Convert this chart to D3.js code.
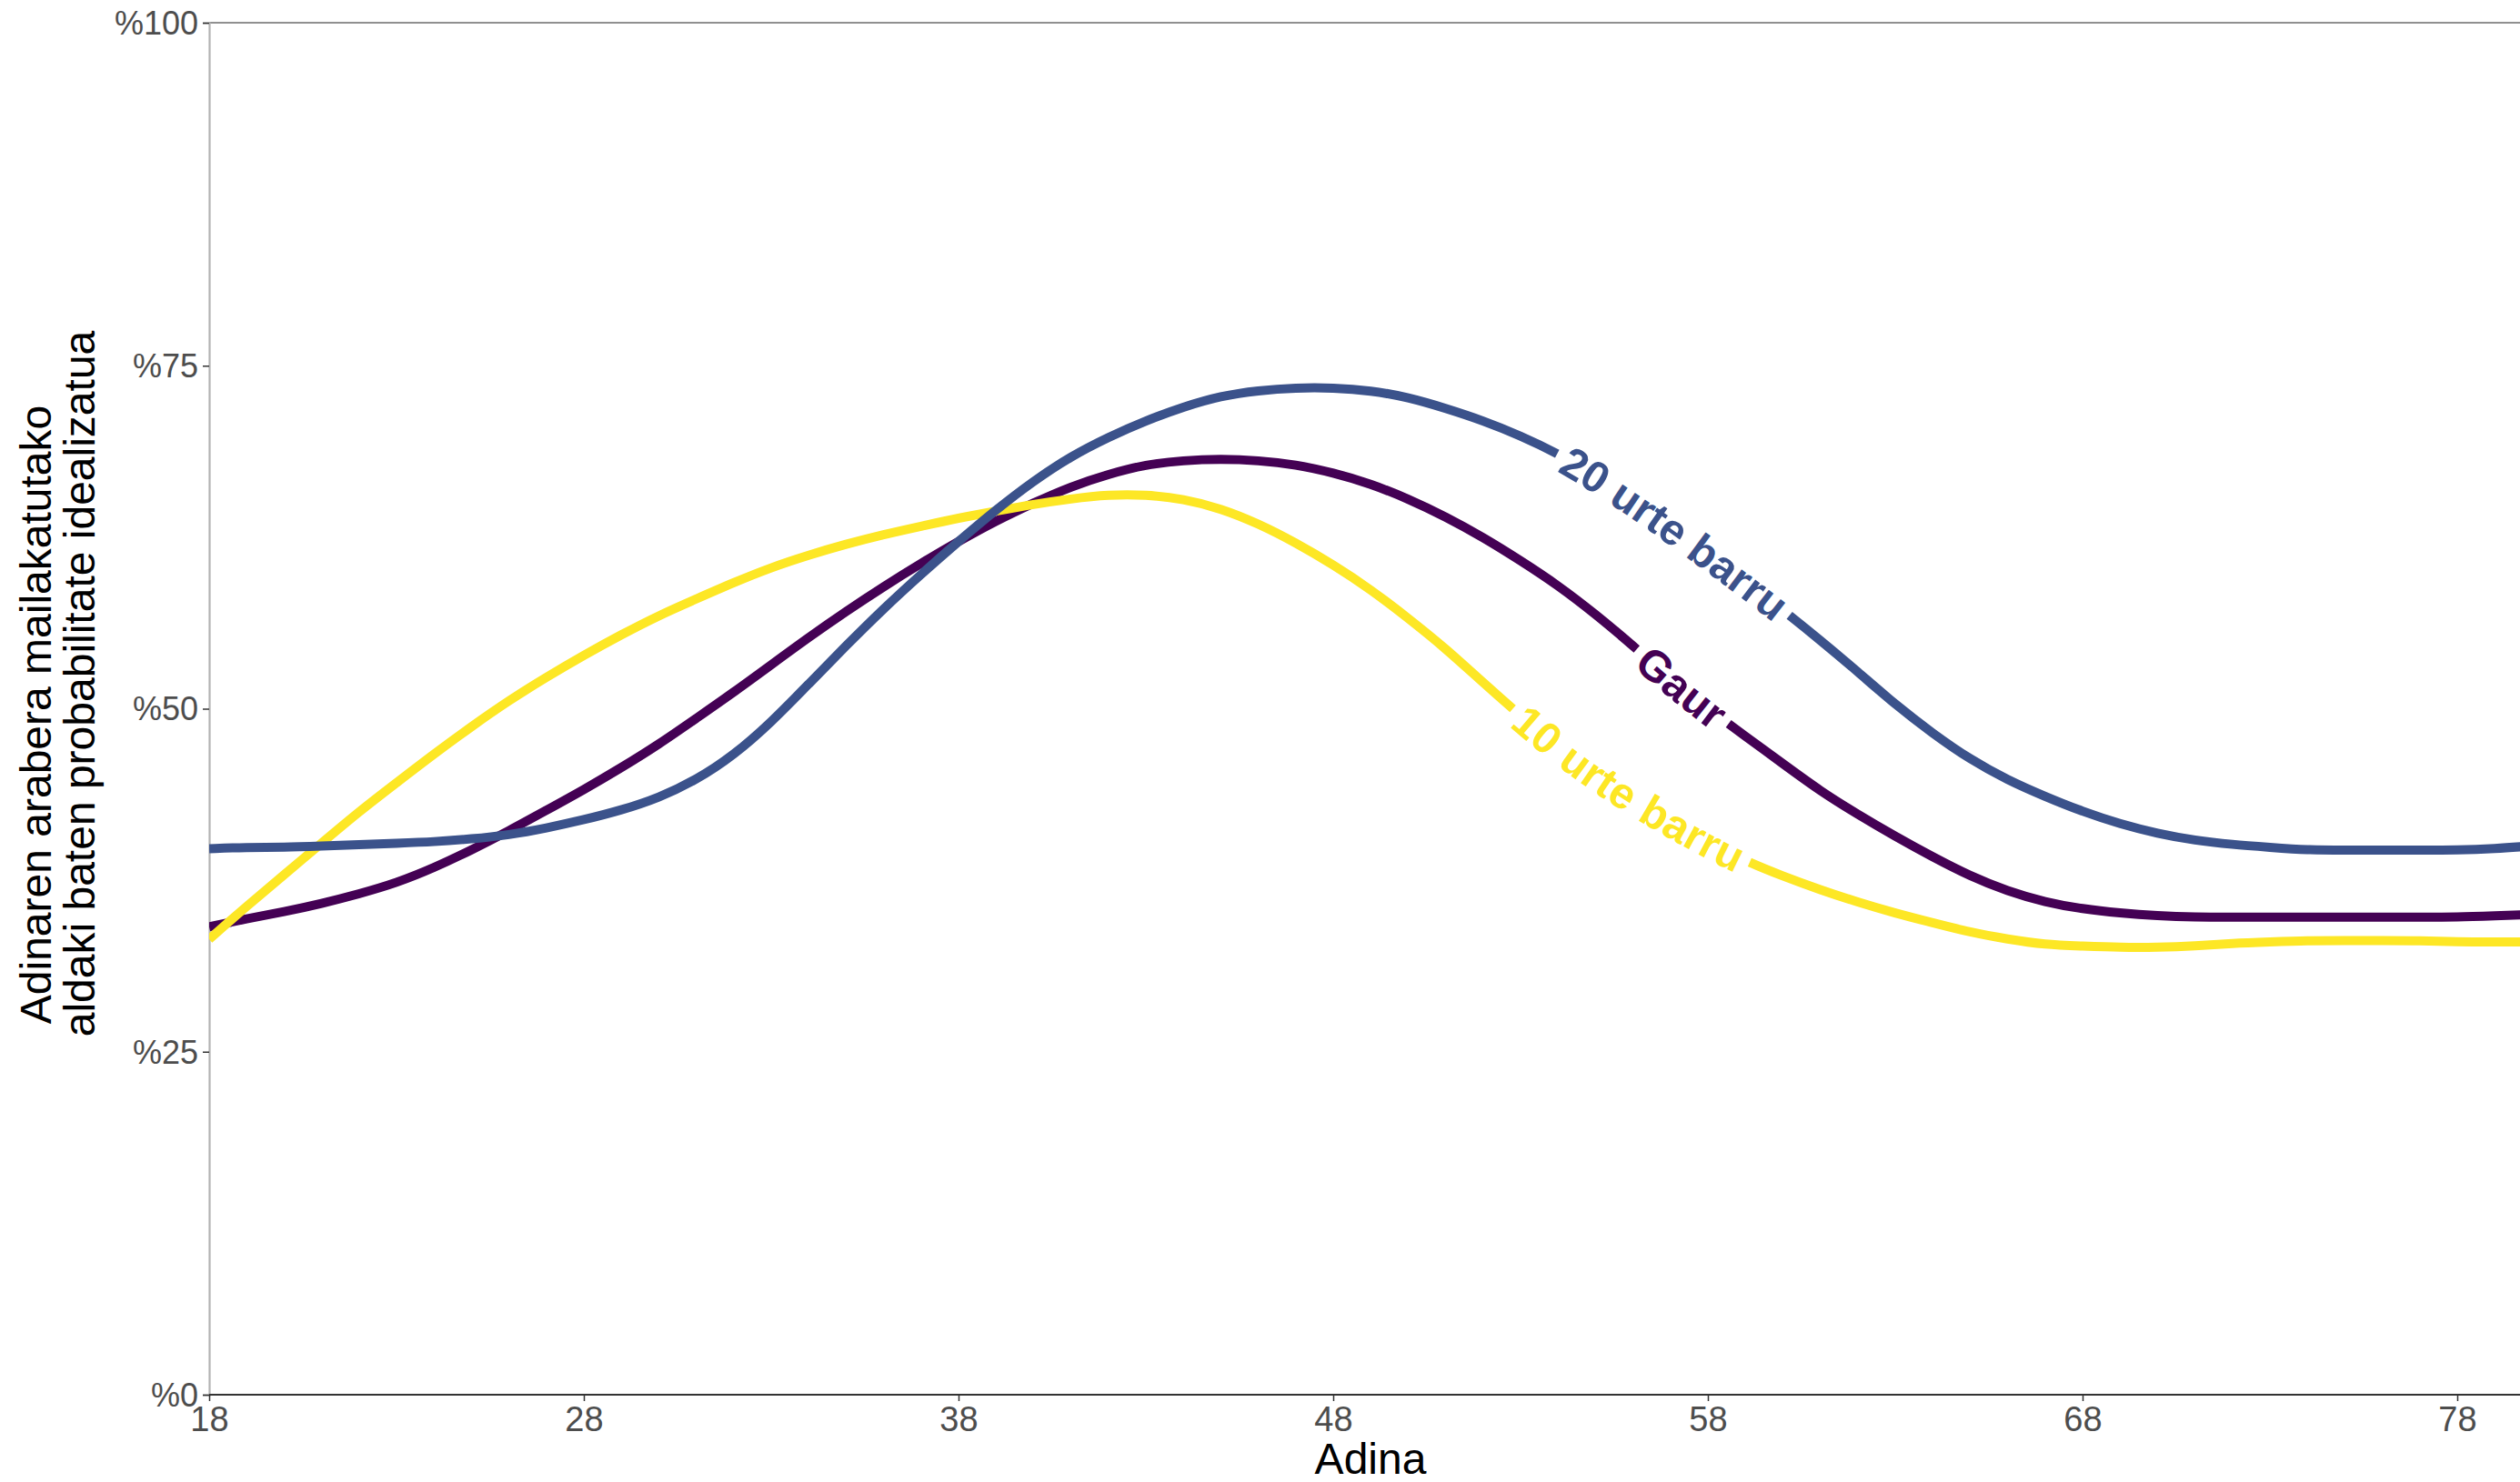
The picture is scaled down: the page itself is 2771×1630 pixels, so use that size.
<!DOCTYPE html>
<html>
<head>
<meta charset="utf-8">
<script src="https://cdn.jsdelivr.net/npm/d3@7"></script>
<style>
html, body { margin: 0; padding: 0; background: #fff; }
svg { display: block; }
</style>
</head>
<body>
<svg id="chart" width="2771" height="1630"></svg>
<script>
// ---- data ----
const ages = d3.range(18, 81);
const gaur = [34.1,34.7,35.2,35.8,36.5,37.3,38.4,39.7,41.1,42.6,44.1,45.7,47.4,49.3,51.2,53.2,55.2,57.1,58.9,60.6,62.2,63.7,65.0,66.2,67.1,67.8,68.1,68.2,68.1,67.8,67.2,66.4,65.3,64.0,62.5,60.8,59.0,56.9,54.6,52.2,50.0,48.0,46.0,44.0,42.3,40.7,39.2,37.8,36.7,35.9,35.4,35.1,34.9,34.8,34.8,34.8,34.8,34.8,34.8,34.8,34.8,34.9,35.0];
const urte10 = [33.2,35.6,37.9,40.2,42.5,44.6,46.7,48.7,50.6,52.3,53.9,55.4,56.8,58.0,59.2,60.3,61.2,62.0,62.7,63.3,63.9,64.4,64.9,65.3,65.6,65.6,65.3,64.6,63.5,62.1,60.5,58.7,56.6,54.4,51.9,49.5,47.2,45.2,43.4,41.8,40.3,38.9,37.8,36.8,35.9,35.1,34.4,33.7,33.2,32.8,32.7,32.6,32.6,32.7,32.9,33.0,33.1,33.1,33.1,33.1,33.0,33.0,33.0];
const urte20 = [39.8,39.9,39.9,40.0,40.1,40.2,40.3,40.5,40.8,41.3,41.9,42.6,43.5,44.8,46.6,49.0,51.8,54.6,57.3,59.8,62.2,64.5,66.6,68.4,69.8,71.0,72.0,72.8,73.2,73.4,73.4,73.2,72.7,71.9,71.0,69.9,68.6,67.0,65.2,63.3,61.3,59.3,57.2,55.0,52.7,50.3,48.2,46.3,44.8,43.6,42.5,41.6,40.9,40.4,40.1,39.9,39.7,39.7,39.7,39.7,39.7,39.8,40.0];
const seriesNames = ["Gaur", "10 urte barru", "20 urte barru"];
const seriesValues = [gaur, urte10, urte20];
const seriesColors = ["#440154", "#FDE725", "#3B528B"];
const labelAges = [57.3, 55.8, 57.15];
const xTicks = [18, 28, 38, 48, 58, 68, 78];
const yTicks = [0, 25, 50, 75, 100];
const xTitle = "Adina";
const yTitleLines = ["Adinaren arabera mailakatutako", "aldaki baten probabilitate idealizatua"];

// ---- layout ----
const svg = d3.select("#chart");
const L = 230, R = 2771, T = 25, B = 1534;
const x = d3.scaleLinear().domain([18, 80]).range([L, L + 62 * 41.2]);
const y = d3.scaleLinear().domain([0, 100]).range([B, T]);
const font = "'Liberation Sans', Arial, sans-serif";

svg.append("defs").append("clipPath").attr("id", "clip")
  .append("rect").attr("x", L).attr("y", 0).attr("width", R - L).attr("height", B + 5);

// top line (100%)
svg.append("line").attr("x1", L).attr("x2", R).attr("y1", y(100)).attr("y2", y(100))
  .attr("stroke", "#6b6b6b").attr("stroke-width", 1.5);

// left axis
const yAxis = d3.axisLeft(y).tickValues(yTicks).tickSize(7).tickPadding(5)
  .tickFormat(d => "%" + d);
const ya = svg.append("g").attr("transform", `translate(${L},0)`).call(yAxis);
ya.select(".domain").attr("stroke", "#b3b3b3").attr("stroke-width", 2.2);
ya.selectAll(".tick line").attr("stroke", "#333").attr("stroke-width", 1.5);
ya.selectAll(".tick text").attr("fill", "#4d4d4d").attr("font-family", font).attr("font-size", 36).attr("dy", "0.34em");

// bottom axis
const xAxis = d3.axisBottom(x).tickValues(xTicks).tickSize(7).tickPadding(6).tickSizeOuter(0);
const xa = svg.append("g").attr("transform", `translate(0,${B})`).call(xAxis);
xa.select(".domain").attr("stroke", "#333").attr("stroke-width", 1.8).attr("d", `M${L},0H${R}`);
xa.selectAll(".tick line").attr("stroke", "#333").attr("stroke-width", 1.5);
xa.selectAll(".tick text").attr("fill", "#4d4d4d").attr("font-family", font).attr("font-size", 38).attr("dy", "0.72em");

// titles
svg.append("text").attr("x", 1507).attr("y", 1621).attr("text-anchor", "middle")
  .attr("font-family", font).attr("font-size", 48).attr("fill", "#000").text(xTitle);
const yCenters = [786, 752];
const yBase = [56, 104];
yTitleLines.forEach((t, i) => {
  svg.append("text").attr("transform", `translate(${yBase[i]},${yCenters[i]}) rotate(-90)`)
    .attr("text-anchor", "middle").attr("font-family", font).attr("font-size", 48)
    .attr("fill", "#000").text(t);
});

// lines
const line = d3.line().x((d, i) => x(ages[i])).y(d => y(d)).curve(d3.curveBasis);
const g = svg.append("g").attr("clip-path", "url(#clip)");
const order = [0, 1, 2];
order.forEach(k => {
  const id = "path" + k;
  const p = g.append("path").attr("id", id).datum(seriesValues[k]).attr("d", line)
    .attr("fill", "none").attr("stroke", seriesColors[k]).attr("stroke-width", 10)
    .attr("stroke-linecap", "butt").attr("stroke-linejoin", "round");
  const node = p.node();
  const total = node.getTotalLength();
  const tx = x(labelAges[k]);
  let lo = 0, hi = total;
  for (let it = 0; it < 40; it++) {
    const mid = (lo + hi) / 2;
    if (node.getPointAtLength(mid).x < tx) lo = mid; else hi = mid;
  }
  const cl = (lo + hi) / 2;
  const t = svg.append("text").attr("font-family", font).attr("font-weight", "bold")
    .attr("font-size", 48).attr("fill", seriesColors[k]).attr("dy", "0.36em");
  t.append("textPath").attr("href", "#" + id).attr("startOffset", cl)
    .attr("text-anchor", "middle").text(seriesNames[k]);
  const tl = t.node().getComputedTextLength();
  const half = tl / 2 + 9;
  p.attr("stroke-dasharray", `${cl - half},${2 * half},${total}`);
});
</script>
</body>
</html>
